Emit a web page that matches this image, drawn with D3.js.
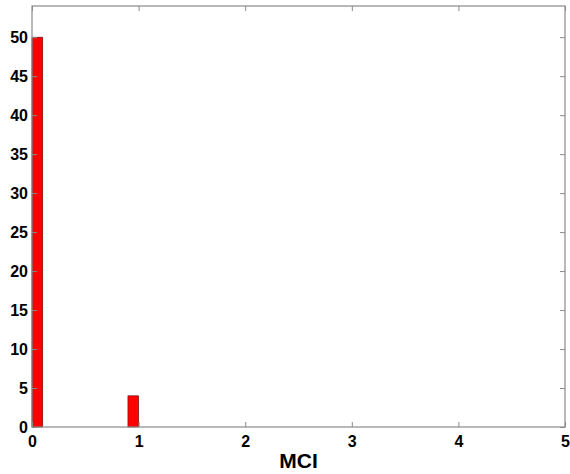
<!DOCTYPE html>
<html><head><meta charset="utf-8">
<script src="https://cdn.jsdelivr.net/npm/d3@7"></script>
<style>body{margin:0;background:#fff}svg{display:block}text{font-family:"Liberation Sans",Arial,Helvetica,sans-serif;font-weight:bold;fill:#000}</style>
</head><body>
<script>
const binStarts = [0, 0.9];
const binWidth = 0.1;
const counts = [50, 4];
const xTicks = [0, 1, 2, 3, 4, 5];
const yTicks = [0, 5, 10, 15, 20, 25, 30, 35, 40, 45, 50];
const xLabel = "MCI";

const W = 570, H = 474;
const m = {l: 32, r: 5, t: 6, b: 47};
const svg = d3.select("body").append("svg").attr("width", W).attr("height", H);
const x = d3.scaleLinear().domain([0, 5]).range([m.l, W - m.r]);
const y = d3.scaleLinear().domain([0, 54]).range([H - m.b, m.t]);
const axisCol = "#8a8a8a";

svg.append("g").selectAll("rect").data(counts).join("rect")
  .attr("x", (d, i) => x(binStarts[i]))
  .attr("width", (d, i) => x(binStarts[i] + binWidth) - x(binStarts[i]))
  .attr("y", d => y(d))
  .attr("height", d => y(0) - y(d))
  .attr("fill", "#ff0000").attr("stroke", "#5a0000").attr("stroke-width", 0.6);

// box
svg.append("rect").attr("x", x(0)).attr("y", y(54)).attr("width", x(5) - x(0)).attr("height", y(0) - y(54))
  .attr("fill", "none").attr("stroke", axisCol).attr("stroke-width", 1.2);

const xa = svg.append("g").attr("transform", `translate(0,${y(0)})`)
  .call(d3.axisBottom(x).tickValues(xTicks).tickFormat(d3.format("d")).tickSizeInner(-5).tickSizeOuter(0).tickPadding(9));
xa.select(".domain").remove();
xa.selectAll("line").attr("stroke", axisCol);
xa.selectAll("text").attr("font-size", 16);

const xTop = svg.append("g").attr("transform", `translate(0,${y(54)})`)
  .call(d3.axisTop(x).tickValues(xTicks).tickFormat("").tickSizeInner(-5).tickSizeOuter(0));
xTop.select(".domain").remove();
xTop.selectAll("line").attr("stroke", axisCol);

const ya = svg.append("g").attr("transform", `translate(${x(0)},0)`)
  .call(d3.axisLeft(y).tickValues(yTicks).tickFormat(d3.format("d")).tickSizeInner(-5).tickSizeOuter(0).tickPadding(4));
ya.select(".domain").remove();
ya.selectAll("line").attr("stroke", axisCol);
ya.selectAll("text").attr("font-size", 16);

const yr = svg.append("g").attr("transform", `translate(${x(5)},0)`)
  .call(d3.axisRight(y).tickValues(yTicks).tickFormat("").tickSizeInner(-5).tickSizeOuter(0));
yr.select(".domain").remove();
yr.selectAll("line").attr("stroke", axisCol);

svg.append("text").attr("x", (x(0) + x(5)) / 2).attr("y", 468).attr("text-anchor", "middle")
  .attr("font-size", 21).text(xLabel);
</script>
</body></html>
